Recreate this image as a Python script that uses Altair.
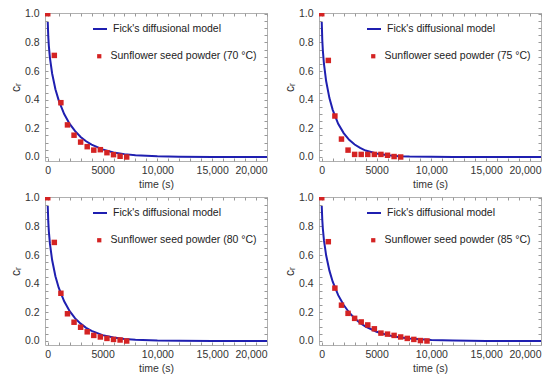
import altair as alt
import pandas as pd

# Fick's diffusional model curves
t_model = [0, 50, 100, 200, 400, 700, 1000, 1500, 2000, 2500, 3000, 3500, 4000,
           5000, 6000, 7000, 8000, 10000, 12000, 15000, 20000]
model_70 = [0.942, 0.838, 0.776, 0.692, 0.583, 0.473, 0.395, 0.300, 0.231, 0.180, 0.140,
            0.110, 0.086, 0.053, 0.032, 0.020, 0.012, 0.0045, 0.0017, 0.0004, 0.0]
model_75 = [0.942, 0.815, 0.745, 0.651, 0.530, 0.411, 0.329, 0.232, 0.167, 0.120, 0.087,
            0.063, 0.045, 0.024, 0.012, 0.006, 0.003, 0.001, 0.0002, 0.0, 0.0]
model_80 = [0.942, 0.831, 0.766, 0.679, 0.565, 0.452, 0.372, 0.277, 0.208, 0.158, 0.121,
            0.092, 0.070, 0.041, 0.024, 0.014, 0.008, 0.0027, 0.0009, 0.0002, 0.0]
model_85 = [0.942, 0.844, 0.785, 0.704, 0.598, 0.491, 0.414, 0.320, 0.251, 0.199, 0.158,
            0.126, 0.101, 0.064, 0.041, 0.026, 0.017, 0.0067, 0.0027, 0.0007, 0.0001]

# Experimental points
t_exp = [0, 600, 1200, 1800, 2400, 3000, 3600, 4200, 4800, 5400, 6000, 6600, 7200]
exp_70 = [1.0, 0.709, 0.379, 0.224, 0.152, 0.104, 0.072, 0.048, 0.051, 0.030, 0.016, 0.005, 0.0]
exp_75 = [1.0, 0.674, 0.286, 0.125, 0.048, 0.018, 0.018, 0.018, 0.018, 0.018, 0.012, 0.003, 0.0]
exp_80 = [1.0, 0.688, 0.333, 0.190, 0.131, 0.096, 0.064, 0.039, 0.028, 0.018, 0.011, 0.007, 0.0]
t_exp_85 = [0, 600, 1200, 1800, 2400, 3000, 3600, 4200, 4800, 5400, 6000, 6600, 7200,
            7800, 8400, 9000, 9600]
exp_85 = [1.0, 0.693, 0.369, 0.250, 0.193, 0.158, 0.133, 0.112, 0.085, 0.055, 0.048,
          0.039, 0.028, 0.018, 0.011, 0.003, 0.0]

temps = ["70", "75", "80", "85"]
model_name = "Fick's diffusional model"

x_ticks = list(range(0, 20001, 1000))
y_ticks = [round(i * 0.05, 2) for i in range(21)]

BLUE = "#1f1fb0"
RED = "#d42323"
FONT = "Liberation Sans"

x_scale = alt.Scale(domain=[-250, 20000], nice=False, zero=False)
y_scale = alt.Scale(domain=[-0.028, 1.005], nice=False, zero=False)


def panel(tm, ym, te, ye, temp):
    exp_name = f"Sunflower seed powder ({temp} °C)"
    dm = pd.DataFrame({"t": tm, "c": ym, "s": model_name})
    de = pd.DataFrame({"t": te, "c": ye, "s": exp_name})

    line = alt.Chart(dm).mark_line(strokeWidth=2, clip=True).encode(
        x=alt.X("t:Q", scale=x_scale, title="time (s)",
                axis=alt.Axis(orient="bottom", values=x_ticks, domain=False,
                              offset=-3, tickSize=3, tickColor="#999",
                              labelExpr="datum.value % 5000 === 0 ? (datum.value >= 10000 ? format(datum.value, ',') : format(datum.value, 'd')) : ''",
                              labelPadding=4, titlePadding=4)),
        y=alt.Y("c:Q", scale=y_scale, title="cᵣ",
                axis=alt.Axis(orient="left", values=y_ticks, domain=False,
                              offset=-3, tickSize=3, tickColor="#999",
                              labelExpr="abs(datum.value*5 - round(datum.value*5)) < 0.000001 ? format(datum.value, '.1f') : ''",
                              labelPadding=6, titlePadding=2, titleFontSize=12)),
        stroke=alt.Stroke("s:N", scale=alt.Scale(domain=[model_name], range=[BLUE]),
                          legend=alt.Legend(orient="none", legendX=47, legendY=8, title=None,
                                            symbolType="stroke", symbolSize=196,
                                            symbolStrokeWidth=2, labelOffset=5)),
    )
    pts = alt.Chart(de).mark_square(size=30, opacity=1, clip=True).encode(
        x=alt.X("t:Q", scale=x_scale,
                axis=alt.Axis(orient="top", values=x_ticks, labels=False, domain=False,
                              title=None, offset=-3, tickSize=3, tickColor="#999")),
        y=alt.Y("c:Q", scale=y_scale,
                axis=alt.Axis(orient="right", values=y_ticks, labels=False, domain=False,
                              title=None, offset=-3, tickSize=3, tickColor="#999")),
        fill=alt.Fill("s:N", scale=alt.Scale(domain=[exp_name], range=[RED]),
                      legend=alt.Legend(orient="none", legendX=49, legendY=38, title=None,
                                        symbolType="square", symbolSize=18,
                                        labelOffset=6)),
    )
    return alt.layer(line, pts).resolve_axis(x="independent", y="independent").properties(
        width=222, height=148)


p = [panel(t_model, model_70, t_exp, exp_70, "70"),
     panel(t_model, model_75, t_exp, exp_75, "75"),
     panel(t_model, model_80, t_exp, exp_80, "80"),
     panel(t_model, model_85, t_exp_85, exp_85, "85")]

chart = alt.vconcat(
    alt.hconcat(p[0], p[1], spacing=14).resolve_scale(stroke="independent", fill="independent"),
    alt.hconcat(p[2], p[3], spacing=14).resolve_scale(stroke="independent", fill="independent"),
    spacing=1,
).resolve_scale(stroke="independent", fill="independent").properties(
    padding={"left": 0, "top": 0, "right": 0, "bottom": 0}
).configure_view(stroke="#b0b0b0", strokeWidth=1).configure_axis(
    labelFont=FONT, titleFont=FONT, labelFontSize=10.5, titleFontSize=10.5,
    labelColor="#333", titleColor="#333", titleFontWeight="normal", grid=False
).configure_legend(
    labelFont=FONT, labelFontSize=10.5, labelColor="#222", padding=0
)

chart.save("out.html", embed_options={"renderer": "svg", "actions": False})
